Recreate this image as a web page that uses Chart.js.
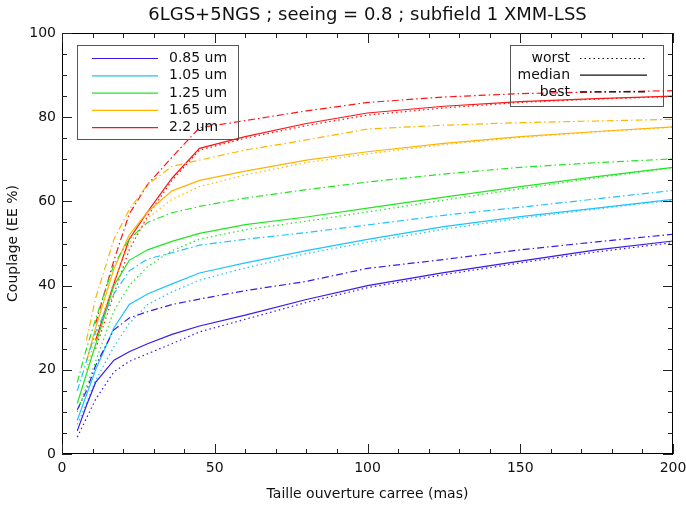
<!DOCTYPE html>
<html>
<head>
<meta charset="utf-8">
<script src="https://cdn.jsdelivr.net/npm/chart.js@4"></script>
<style>
  html, body { margin: 0; padding: 0; background: #fff; }
  #wrap { width: 686px; height: 508px; position: relative; }
</style>
</head>
<body>
<div id="wrap"><canvas id="c" width="686" height="508"></canvas></div>
<script>
// ---------------- DATA ----------------
const chartTitle = '6LGS+5NGS ; seeing = 0.8 ; subfield 1 XMM-LSS';
const xTitle = 'Taille ouverture carree (mas)';
const yTitle = 'Couplage (EE %)';

const apertures = [5, 8, 11, 17, 22, 28, 36, 45, 60, 80, 100, 125, 150, 175, 200];
const wavelengths = ['0.85 um', '1.05 um', '1.25 um', '1.65 um', '2.2 um'];
const cases = ['worst', 'median', 'best'];

const ee085_worst  = [4, 8.5, 13, 19.5, 22, 23.8, 26.2, 29, 32, 36, 39.5, 42.6, 45.4, 48, 50.2];
const ee085_median = [5.5, 11.5, 17, 22.3, 24.3, 26.2, 28.4, 30.4, 33, 36.7, 40, 43.1, 45.8, 48.5, 50.6];
const ee085_best   = [10.5, 15, 21, 29.5, 32.3, 33.8, 35.5, 36.8, 38.8, 41, 44.1, 46.2, 48.5, 50.4, 52.2];

const ee105_worst  = [7, 12, 17.5, 25.5, 31, 35.5, 38.5, 41.3, 44.2, 47.6, 50.3, 53.4, 56, 58.2, 60.3];
const ee105_median = [8, 14, 20, 30, 35.5, 38, 40.4, 43, 45.4, 48.3, 51, 54, 56.4, 58.4, 60.5];
const ee105_best   = [15, 22, 29, 38, 43.5, 46.3, 47.8, 49.6, 51, 52.6, 54.4, 56.7, 58.6, 60.6, 62.6];

const ee125_worst  = [10, 16, 22, 34, 40, 44.5, 48.3, 51, 53.3, 55.3, 57.5, 60.3, 63, 65.6, 68];
const ee125_median = [12, 19, 26, 40, 46, 48.5, 50.5, 52.4, 54.5, 56.3, 58.4, 61, 63.5, 65.9, 68.1];
const ee125_best   = [17, 25, 32, 45, 51, 55, 57.3, 58.8, 60.8, 62.8, 64.6, 66.5, 68.1, 69.2, 70.1];

const ee165_worst  = [null, 20, 28, 41, 50, 56, 60.5, 63.5, 66.3, 69.2, 71.3, 73.5, 75.2, 76.5, 77.6];
const ee165_median = [null, 22, 30, 44, 52, 57.5, 62.5, 65, 67.2, 69.8, 71.8, 73.8, 75.4, 76.6, 77.7];
const ee165_best   = [null, 27, 37, 51, 58, 64, 68.3, 69.8, 72.2, 74.6, 77.2, 78.1, 78.7, 79.1, 79.5];

const ee220_worst  = [null, null, 25, 38, 48.5, 56.5, 65, 72.2, 75, 78, 80.5, 82.2, 83.5, 84.3, 84.9];
const ee220_median = [null, null, 27, 40.5, 51, 57.5, 65.5, 72.6, 75.4, 78.5, 81, 82.6, 83.7, 84.4, 85];
const ee220_best   = [null, null, 31, 46, 57, 64, 70.5, 77.5, 79.2, 81.5, 83.5, 84.8, 85.6, 86, 86.3];

// ---------------- STYLES ----------------
const colors = ['#3a1aeb', '#1cc4ff', '#22e622', '#ffb400', '#ff1414'];
const dashes = { worst: [1.5, 3], median: [], best: [7, 3, 1.5, 3] };
const FONT = "'DejaVu Sans', sans-serif";

const seriesTable = [
  [ee085_worst, ee085_median, ee085_best],
  [ee105_worst, ee105_median, ee105_best],
  [ee125_worst, ee125_median, ee125_best],
  [ee165_worst, ee165_median, ee165_best],
  [ee220_worst, ee220_median, ee220_best]
];

const datasets = [];
seriesTable.forEach((group, wi) => {
  group.forEach((vals, ci) => {
    datasets.push({
      label: wavelengths[wi] + ' ' + cases[ci],
      data: apertures.map((x, i) => ({ x: x, y: vals[i] })),
      borderColor: colors[wi],
      backgroundColor: colors[wi],
      borderWidth: 1.2,
      borderDash: dashes[cases[ci]],
      pointRadius: 0,
      tension: 0,
      spanGaps: false,
      fill: false
    });
  });
});

// ---------------- FRAME / LEGEND PLUGIN ----------------
const idlPlugin = {
  id: 'idlFrame',
  afterDraw(chart) {
    const ctx = chart.ctx;
    const a = chart.chartArea;
    const xs = chart.scales.x, ys = chart.scales.y;
    ctx.save();
    // frame
    ctx.strokeStyle = '#000';
    ctx.lineWidth = 1;
    ctx.strokeRect(Math.round(a.left) + 0.5, Math.round(a.top) + 0.5,
                   Math.round(a.right - a.left) - 1, Math.round(a.bottom - a.top) - 1);
    // ticks
    ctx.strokeStyle = '#222';
    ctx.beginPath();
    for (let v = xs.min; v <= xs.max + 1e-9; v += 10) {
      const px = Math.round(xs.getPixelForValue(v)) + 0.5;
      const len = (v % 50 === 0) ? 10 : 5;
      ctx.moveTo(px, a.bottom); ctx.lineTo(px, a.bottom - len);
      ctx.moveTo(px, a.top); ctx.lineTo(px, a.top + len);
    }
    for (let v = ys.min; v <= ys.max + 1e-9; v += 5) {
      const py = Math.round(ys.getPixelForValue(v)) + 0.5;
      const len = (v % 20 === 0) ? 10 : 5;
      ctx.moveTo(a.left, py); ctx.lineTo(a.left + len, py);
      ctx.moveTo(a.right, py); ctx.lineTo(a.right - len, py);
    }
    ctx.stroke();

    // titles
    ctx.fillStyle = '#111';
    ctx.textBaseline = 'middle';
    ctx.textAlign = 'center';
    ctx.font = '18px ' + FONT;
    ctx.fillText(chartTitle, (a.left + a.right) / 2, 15);
    ctx.font = '14px ' + FONT;
    ctx.fillText(xTitle, (a.left + a.right) / 2, 494);
    ctx.save();
    ctx.translate(13, (a.top + a.bottom) / 2);
    ctx.rotate(-Math.PI / 2);
    ctx.fillText(yTitle, 0, 0);
    ctx.restore();

    // left legend (wavelengths)
    ctx.strokeStyle = '#555';
    ctx.lineWidth = 1;
    ctx.strokeRect(a.left + 15.5, a.top + 12.5, 161, 94);
    ctx.font = '14px ' + FONT;
    ctx.textAlign = 'left';
    wavelengths.forEach((w, i) => {
      const yy = a.top + 25.5 + i * 17.3;
      ctx.strokeStyle = colors[i];
      ctx.setLineDash([]);
      ctx.lineWidth = 1.2;
      ctx.beginPath(); ctx.moveTo(a.left + 30, yy); ctx.lineTo(a.left + 96, yy); ctx.stroke();
      ctx.fillStyle = '#111';
      ctx.fillText(w, a.left + 107, yy);
    });

    // right legend (cases)
    ctx.strokeStyle = '#555';
    ctx.lineWidth = 1;
    ctx.setLineDash([]);
    ctx.strokeRect(a.left + 448.5, a.top + 12.5, 153, 61);
    ctx.textAlign = 'right';
    cases.forEach((c, i) => {
      const yy = a.top + 25.5 + i * 16.7;
      ctx.strokeStyle = '#111';
      ctx.lineWidth = 1.2;
      ctx.setLineDash(dashes[c]);
      ctx.beginPath(); ctx.moveTo(a.left + 518, yy); ctx.lineTo(a.left + 585, yy); ctx.stroke();
      ctx.fillStyle = '#111';
      ctx.fillText(c, a.left + 508, yy);
    });
    ctx.restore();
  }
};

new Chart(document.getElementById('c'), {
  type: 'line',
  data: { datasets: datasets },
  options: {
    responsive: false,
    animation: false,
    devicePixelRatio: 1,
    layout: { padding: { top: 33, right: 13, left: 0, bottom: 0 } },
    plugins: { legend: { display: false }, title: { display: false }, tooltip: { enabled: false } },
    scales: {
      x: {
        type: 'linear', min: 0, max: 200,
        ticks: { stepSize: 50, color: '#111', font: { family: FONT, size: 14 }, padding: 6, maxRotation: 0 },
        grid: { display: false, drawTicks: false },
        border: { display: false },
        afterFit(s) { s.height = 54; s.paddingLeft = 0; s.paddingRight = 0; }
      },
      y: {
        type: 'linear', min: 0, max: 100,
        ticks: { stepSize: 20, color: '#111', font: { family: FONT, size: 14 }, padding: 6 },
        grid: { display: false, drawTicks: false },
        border: { display: false },
        afterFit(s) { s.width = 62; s.paddingTop = 0; s.paddingBottom = 0; }
      }
    }
  },
  plugins: [idlPlugin]
});
</script>
</body>
</html>
